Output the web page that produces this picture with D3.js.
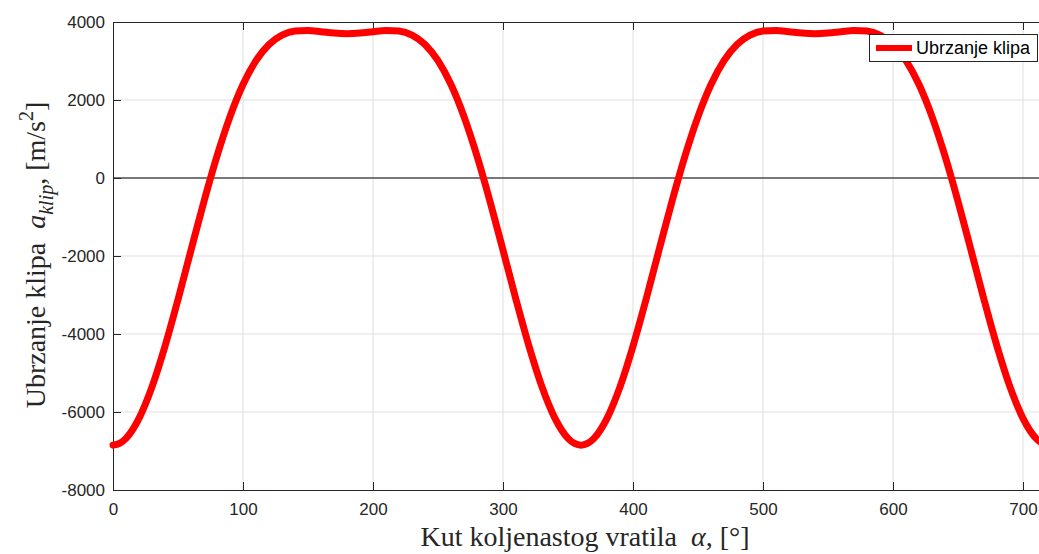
<!DOCTYPE html>
<html lang="en">
<head>
<meta charset="UTF-8" />
<title>Ubrzanje klipa</title>
<script src="https://d3js.org/d3.v7.min.js"></script>
<style>
  body { margin: 0; background: #fff; }
  svg { display: block; }
  .tick text { font-family: 'Liberation Sans', Arial, sans-serif; font-size: 17px; fill: #262626; }
  .grid line { stroke: #dfdfdf; stroke-width: 1; }
  .label { font-family: 'Liberation Serif', 'Times New Roman', serif; font-size: 28px; fill: #262626; }
</style>
</head>
<body>
<svg id="chart" width="1039" height="554"></svg>
<script>
// crank angle [deg] and piston acceleration [m/s^2]
const angles = [0,5,10,20,30,40,50,60,70,80,90,100,110,120,130,140,150,160,170,180,
  190,200,210,220,230,240,250,260,270,280,290,300,310,320,330,340,350,355,360,365,
  370,380,390,400,410,420,430,440,450,460,470,480,490,500,510,520,530,540,
  550,560,570,580,590,600,610,620,630,640,650,660,670,680,690,700,710,715,720];
const accel = [-6850,-6806,-6675,-6163,-5356,-4314,-3118,-1850,-598,564,1575,2396,3010,3425,3664,3767,3781,3750,3715,3700,
  3715,3750,3781,3767,3664,3425,3010,2396,1575,564,-598,-1850,-3118,-4314,-5356,-6163,-6675,-6806,-6850,-6806,
  -6675,-6163,-5356,-4314,-3118,-1850,-598,564,1575,2396,3010,3425,3664,3767,3781,3750,3715,3700,
  3715,3750,3781,3767,3664,3425,3010,2396,1575,564,-598,-1850,-3118,-4314,-5356,-6163,-6675,-6806,-6850];
const xTicks = [0,100,200,300,400,500,600,700];
const yTicks = [-8000,-6000,-4000,-2000,0,2000,4000];
const seriesName = "Ubrzanje klipa";

const svg = d3.select("#chart");
const pLeft = 113, pRight = 1049, pTop = 22, pBottom = 490;

const x = d3.scaleLinear().domain([0, 720]).range([pLeft, pRight]);
const y = d3.scaleLinear().domain([-8000, 4000]).range([pBottom, pTop]);

// grid
const grid = svg.append("g").attr("class", "grid");
grid.selectAll(".gx").data(xTicks.slice(1)).enter().append("line")
  .attr("x1", d => x(d)).attr("x2", d => x(d)).attr("y1", pTop).attr("y2", pBottom);
grid.selectAll(".gy").data(yTicks.slice(1, -1)).enter().append("line")
  .attr("x1", pLeft).attr("x2", pRight).attr("y1", d => y(d)).attr("y2", d => y(d));

// zero line
svg.append("line")
  .attr("x1", pLeft).attr("x2", pRight).attr("y1", y(0)).attr("y2", y(0))
  .attr("stroke", "#000").attr("stroke-width", 1);

// axes (MATLAB box style, ticks inward), plain hyphen minus like MATLAB
const fmt = d => String(d);
const xAxis = svg.append("g").attr("transform", `translate(0,${pBottom})`)
  .call(d3.axisBottom(x).tickValues(xTicks).tickSizeInner(-8).tickSizeOuter(0).tickPadding(13).tickFormat(fmt));
const xTop = svg.append("g").attr("transform", `translate(0,${pTop})`)
  .call(d3.axisTop(x).tickValues(xTicks).tickSizeInner(-8).tickSizeOuter(0).tickFormat(""));
const yAxis = svg.append("g").attr("transform", `translate(${pLeft},0)`)
  .call(d3.axisLeft(y).tickValues(yTicks).tickSizeInner(-8).tickSizeOuter(0).tickPadding(8).tickFormat(fmt));
[xAxis, xTop, yAxis].forEach(g => {
  g.select(".domain").attr("stroke", "#262626");
  g.selectAll(".tick line").attr("stroke", "#262626");
});

// data line
svg.append("path")
  .datum(angles.map((a, i) => [a, accel[i]]))
  .attr("fill", "none")
  .attr("stroke", "#ff0000")
  .attr("stroke-width", 7)
  .attr("stroke-linejoin", "round")
  .attr("stroke-linecap", "round")
  .attr("d", d3.line().x(d => x(d[0])).y(d => y(d[1])).curve(d3.curveMonotoneX));

// legend
const lg = svg.append("g");
lg.append("rect").attr("x", 869.5).attr("y", 34.5).attr("width", 168).attr("height", 27)
  .attr("fill", "#fff").attr("stroke", "#262626").attr("stroke-width", 1);
lg.append("line").attr("x1", 876).attr("x2", 912).attr("y1", 48).attr("y2", 48)
  .attr("stroke", "#ff0000").attr("stroke-width", 6);
lg.append("text").attr("x", 916).attr("y", 54)
  .attr("font-family", "'Liberation Sans', Arial, sans-serif").attr("font-size", 18)
  .attr("fill", "#000").text(seriesName);

// axis labels
svg.append("text").attr("class", "label")
  .attr("x", 585).attr("y", 546).attr("text-anchor", "middle")
  .call(t => {
    t.append("tspan").text("Kut koljenastog vratila\u00a0\u00a0");
    t.append("tspan").attr("font-style", "italic").text("\u03b1");
    t.append("tspan").text(", [\u00b0]");
  });

const yl = svg.append("text").attr("class", "label")
  .attr("transform", "translate(45,255) rotate(-90)").attr("text-anchor", "middle");
yl.append("tspan").text("Ubrzanje klipa\u00a0\u00a0");
yl.append("tspan").attr("font-style", "italic").text("a");
yl.append("tspan").attr("font-style", "italic").attr("font-size", 20).attr("dy", 8).text("klip");
yl.append("tspan").attr("dy", -8).text(", [m/s");
yl.append("tspan").attr("font-size", 20).attr("dy", -12).text("2");
yl.append("tspan").attr("dy", 12).text("]");
</script>
</body>
</html>
